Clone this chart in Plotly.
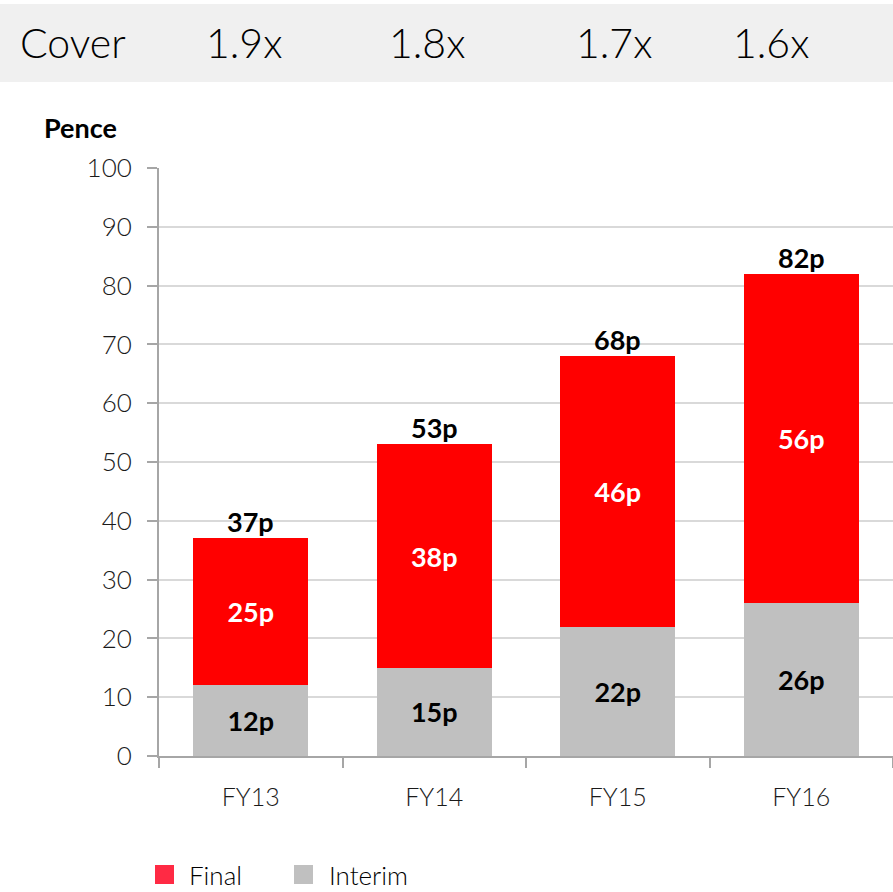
import plotly.graph_objects as go

years = ["FY13", "FY14", "FY15", "FY16"]
interim = [12, 15, 22, 26]
final = [25, 38, 46, 56]
totals = [37, 53, 68, 82]
cover_labels = ["1.9x", "1.8x", "1.7x", "1.6x"]
y_ticks = [0, 10, 20, 30, 40, 50, 60, 70, 80, 90, 100]
legend_names = ["Final", "Interim"]
legend_colors = ["#ff2a44", "#c0c0c0"]

FONT = "Lato"
W, H = 893, 892
ML, MR, MT, MB = 159, 0, 168, 136
PW, PH = W - ML - MR, H - MT - MB

def px_x(x):
    return (x - ML) / PW

def px_y(y):
    return (H - MB - y) / PH

fig = go.Figure()
fig.add_trace(go.Bar(
    x=years, y=interim, name="Interim", marker=dict(color="#c0c0c0", line=dict(width=0)),
    text=[f"{v}p" for v in interim], textposition="inside", insidetextanchor="middle",
    textangle=0, constraintext="none",
    textfont=dict(family=FONT, size=27, color="black", weight="bold"),
    showlegend=False, width=0.625,
))
fig.add_trace(go.Bar(
    x=years, y=final, name="Final", marker=dict(color="#ff0000", line=dict(width=0)),
    text=[f"{v}p" for v in final], textposition="inside", insidetextanchor="middle",
    textangle=0, constraintext="none",
    textfont=dict(family=FONT, size=27, color="white", weight="bold"),
    showlegend=False, width=0.625,
))

annotations = []
for yr, t in zip(years, totals):
    annotations.append(dict(x=yr, y=t, text=f"{t}p", showarrow=False, yanchor="bottom",
                            yshift=-2, font=dict(family=FONT, size=27, color="black", weight="bold")))

annotations.append(dict(xref="paper", yref="paper", x=px_x(80), y=px_y(127), text="Pence",
                        showarrow=False, xanchor="center", yanchor="middle",
                        font=dict(family=FONT, size=27, color="black", weight="bold")))

annotations.append(dict(xref="paper", yref="paper", x=px_x(18), y=px_y(43), text="Cover",
                        showarrow=False, xanchor="left", yanchor="middle",
                        font=dict(family=FONT, size=41, color="black", weight=300)))
for cx, lab in zip([244, 427, 614, 771], cover_labels):
    annotations.append(dict(xref="paper", yref="paper", x=px_x(cx), y=px_y(43), text=lab,
                            showarrow=False, xanchor="center", yanchor="middle",
                            font=dict(family=FONT, size=41, color="black", weight=300)))

shapes = [dict(type="rect", xref="paper", yref="paper", x0=px_x(0), x1=px_x(W),
               y0=px_y(82), y1=px_y(4), fillcolor="#f0f0f0", line=dict(width=0), layer="below")]

# legend drawn at the bottom, as in the original
for (sx, tx), name, col in zip([(155, 187), (294, 327)], legend_names, legend_colors):
    shapes.append(dict(type="rect", xref="paper", yref="paper", x0=px_x(sx), x1=px_x(sx + 19),
                       y0=px_y(884), y1=px_y(865), fillcolor=col, line=dict(width=0)))
    annotations.append(dict(xref="paper", yref="paper", x=px_x(tx), y=px_y(875), text=name,
                            showarrow=False, xanchor="left", yanchor="middle",
                            font=dict(family=FONT, size=26, color="black", weight=300)))

fig.update_layout(
    width=W, height=H, barmode="stack", showlegend=False,
    margin=dict(l=ML, r=MR, t=MT, b=MB, pad=0),
    paper_bgcolor="white", plot_bgcolor="white",
    font=dict(family=FONT, color="black"),
    annotations=annotations, shapes=shapes,
    xaxis=dict(range=[-0.5, 3.5], showline=True, linecolor="#a6a6a6", linewidth=2,
               ticks="outside", tickson="boundaries", ticklen=10, tickcolor="#a6a6a6",
               tickwidth=2, showgrid=False,
               tickfont=dict(family=FONT, size=25, color="#1a1a1a", weight=300), ticklabelstandoff=18),
    yaxis=dict(range=[0, 100], tickvals=y_ticks, showline=True, linecolor="#a6a6a6", linewidth=2,
               ticks="outside", ticklen=10, tickcolor="#a6a6a6", tickwidth=2,
               showgrid=True, gridcolor="#d9d9d9", gridwidth=1.5, zeroline=False,
               tickfont=dict(family=FONT, size=26, color="#1a1a1a", weight=300), ticklabelstandoff=10),
)

fig.write_html("out.html", config={"displayModeBar": False},
               post_script="document.body.style.margin='0';document.body.style.overflow='hidden';")
